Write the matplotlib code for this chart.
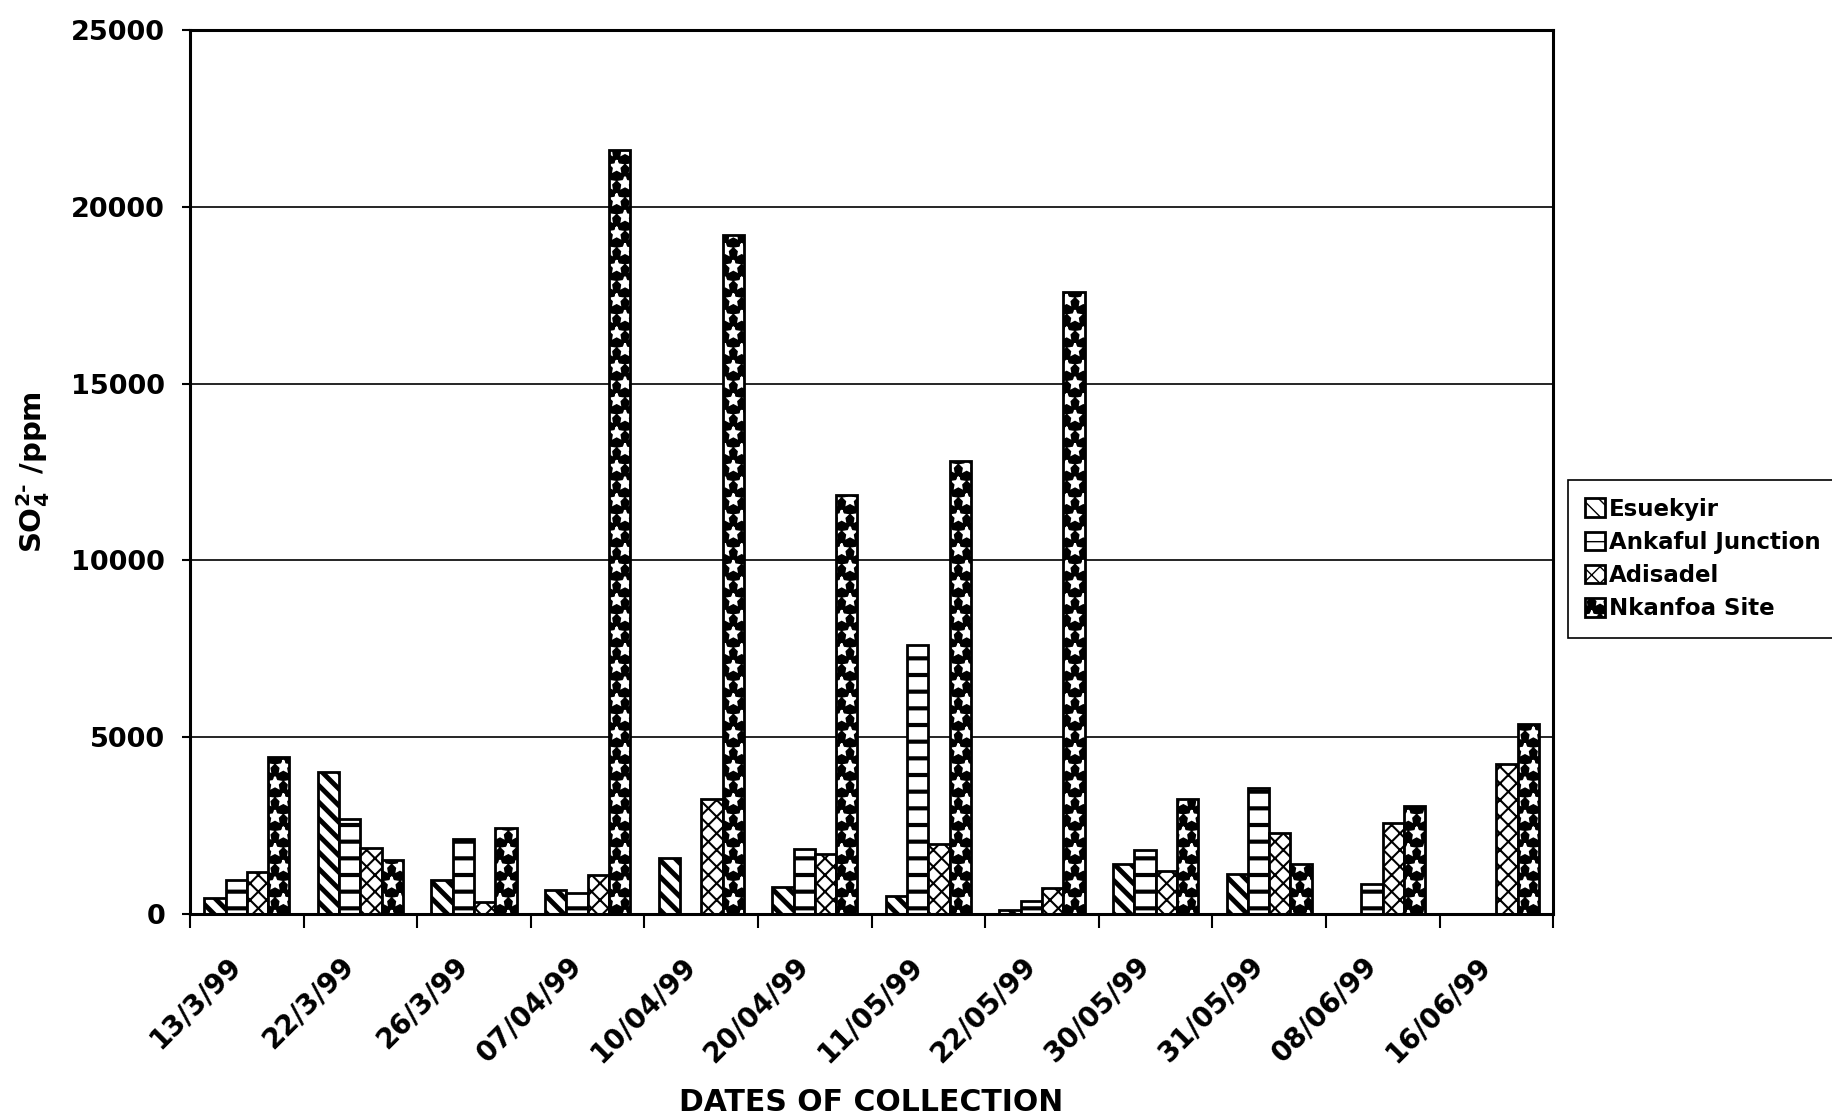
import numpy as np
import matplotlib
matplotlib.use('Agg')
import matplotlib.pyplot as plt
import matplotlib.transforms as mtransforms
from matplotlib.patches import Patch
from matplotlib.legend_handler import HandlerTuple

# --- data ---
dates = ['13/3/99', '22/3/99', '26/3/99', '07/04/99', '10/04/99', '20/04/99',
         '11/05/99', '22/05/99', '30/05/99', '31/05/99', '08/06/99', '16/06/99']
esuekyir = [450, 4000, 960, 680, 1590, 770, 510, 100, 1420, 1120, 0, 0]
ankaful = [960, 2680, 2120, 600, 0, 1850, 7600, 370, 1820, 3570, 840, 0]
adisadel = [1190, 1860, 340, 1110, 3240, 1700, 1990, 740, 1220, 2280, 2560, 4240]
nkanfoa = [4440, 1530, 2430, 21600, 19200, 11850, 12800, 17600, 3240, 1400, 3060, 5370]

sites = ['Esuekyir', 'Ankaful Junction', 'Adisadel', 'Nkanfoa Site']
hatches = ['\\\\', '-', 'xx', '*']
hatch_lw = [3.5, 3.0, 1.5, 1.5]

plt.rcParams['font.family'] = ['DejaVu Sans']
plt.rcParams['mathtext.fontset'] = 'dejavusans'
plt.rcParams['mathtext.default'] = 'bf'

fig = plt.figure(figsize=(18.33, 11.2), dpi=100)
ax = fig.add_axes([0.1037, 0.184, 0.7436, 0.7893])

x = np.arange(len(dates))
w = 0.1875
series = [esuekyir, ankaful, adisadel, nkanfoa]


def set_hlw(patches, lw):
    for p in patches:
        if hasattr(p, 'set_hatch_linewidth'):
            p.set_hatch_linewidth(lw)


handles = []
for k, (name, vals, h, hlw) in enumerate(zip(sites, series, hatches, hatch_lw)):
    pos = x + (k - 1.5) * w
    with plt.rc_context({'hatch.linewidth': hlw}):
        if name == 'Nkanfoa Site':
            b = ax.bar(pos, vals, w, facecolor='black', edgecolor='white', hatch=h, lw=0, zorder=2)
            ax.bar(pos, vals, w, fill=False, edgecolor='black', lw=2, zorder=3)
            hp = Patch(facecolor='black', edgecolor='white', hatch=h, lw=0)
            handles.append((hp, Patch(fill=False, edgecolor='black', lw=2)))
        else:
            b = ax.bar(pos, vals, w, facecolor='white', edgecolor='black', hatch=h, lw=2, zorder=2)
            hp = Patch(facecolor='white', edgecolor='black', hatch=h, lw=2)
            handles.append(hp)
    set_hlw(list(b) + [hp], hlw)

ax.set_xlim(-0.5, len(dates) - 0.5)
ax.set_ylim(0, 25000)
ax.set_axisbelow(True)
ax.yaxis.grid(True, color='black', lw=1.2)

ax.set_yticks(range(0, 25001, 5000))
ax.tick_params(axis='y', length=6, width=1.5, pad=12, labelsize=19.5)
for t in ax.get_yticklabels():
    t.set_fontweight('bold')

ax.set_xticks(x)
ax.set_xticklabels(dates, rotation=45, ha='right', va='center',
                   rotation_mode='anchor', fontsize=20, fontweight='bold')
ax.set_xticks(np.arange(-0.5, len(dates)), minor=True)
ax.tick_params(axis='x', which='major', length=0, pad=34)
ax.tick_params(axis='x', which='minor', length=10, width=1.5, direction='out')
shift = mtransforms.ScaledTranslation(-10 / 100, 0, fig.dpi_scale_trans)
for t in ax.get_xticklabels():
    t.set_transform(t.get_transform() + shift)

for s in ax.spines.values():
    s.set_linewidth(2.2)

ax.set_xlabel('DATES OF COLLECTION', fontsize=21.5, fontweight='bold')
ax.xaxis.set_label_coords(0.5, -0.2138)
ax.xaxis.label.set_va('center')
ax.set_ylabel('SO$_4^{2\u2010}$ /ppm', fontsize=21, fontweight='bold')
ax.yaxis.set_label_coords(-0.1152, 0.5)
ax.yaxis.label.set_va('center')

leg = fig.legend(handles, sites, loc='center left',
                 bbox_to_anchor=(1568 / 1833, 1 - 559 / 1120),
                 handler_map={tuple: HandlerTuple(ndivide=1)},
                 frameon=True, fancybox=False, framealpha=1, edgecolor='black',
                 prop={'weight': 'bold', 'size': 16.5},
                 handlelength=0.85, handleheight=0.85, handletextpad=0.2,
                 labelspacing=0.45, borderpad=0.75, borderaxespad=0)
leg.get_frame().set_linewidth(1.2)

fig.savefig('out.png', dpi=100)
